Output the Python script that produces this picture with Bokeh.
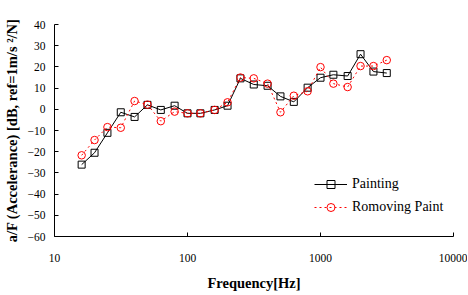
from bokeh.plotting import figure
from bokeh.embed import file_html
from bokeh.resources import INLINE
from bokeh.models import FixedTicker, NumeralTickFormatter, Range1d, Legend, LegendItem

# Data (1/3-octave band centre frequencies)
freq = [16, 20, 25, 31.5, 40, 50, 63, 80, 100, 125, 160, 200, 250, 315, 400,
        500, 630, 800, 1000, 1250, 1600, 2000, 2500, 3150]
painting = [-26.1, -20.5, -11.1, -1.4, -3.6, 2.1, -0.3, 1.7, -1.9, -1.9, -0.3, 1.7,
            14.6, 11.7, 11.1, 6.1, 3.5, 10.2, 14.9, 16.3, 15.7, 26.0, 17.8, 17.1]
removing = [-21.7, -14.5, -8.4, -8.7, 3.9, 2.2, -5.6, -1.1, -1.9, -1.9, -0.3, 3.3,
            15.0, 14.6, 12.1, -1.4, 6.4, 8.5, 19.9, 12.1, 10.5, 20.4, 20.4, 23.2]
x_ticks = [10, 100, 1000, 10000]
y_ticks = [-60, -50, -40, -30, -20, -10, 0, 10, 20, 30, 40]
series_names = ["Painting", "Romoving Paint"]

FONT = "Liberation Serif"

p = figure(frame_width=399, frame_height=212, x_axis_type="log",
           x_range=Range1d(10, 10000), y_range=Range1d(-60, 40),
           output_backend="svg", toolbar_location=None,
           min_border_left=47, min_border_top=24, min_border_right=14, min_border_bottom=51)
p.outline_line_color = None
p.xgrid.visible = False
p.ygrid.visible = False
p.background_fill_color = "white"
p.border_fill_color = "white"

for ax in (p.xaxis[0], p.yaxis[0]):
    ax.major_tick_in = 4
    ax.major_tick_out = 0
    ax.minor_tick_in = 0
    ax.minor_tick_out = 0
    ax.axis_line_color = "black"
    ax.major_tick_line_color = "black"
    ax.major_label_text_font = FONT
    ax.major_label_text_font_size = "11.5px"
    ax.major_label_text_color = "black"
    ax.axis_label_text_font = FONT
    ax.axis_label_text_font_style = "bold"
    ax.axis_label_text_font_size = "14.5px"
    ax.axis_label_text_color = "black"

p.xaxis.ticker = FixedTicker(ticks=x_ticks, minor_ticks=[])
p.xaxis.formatter = NumeralTickFormatter(format="0")
p.yaxis.ticker = FixedTicker(ticks=y_ticks, minor_ticks=[])
p.xaxis.major_label_standoff = 17
p.yaxis.major_label_standoff = 9
p.xaxis.axis_label = "Frequency[Hz]"
p.yaxis.axis_label = "a/F (Accelerance) [dB, ref=1m/s \u00b2/N]"
p.xaxis.axis_label_standoff = 10
p.yaxis.axis_label_standoff = 5

l1 = p.line(freq, painting, line_color="black", line_width=1)
s1 = p.scatter(freq, painting, marker="square", size=7, line_color="black",
               fill_color=None, line_width=1)
l2 = p.line(freq, removing, line_color="red", line_width=1, line_dash="2 3")
s2 = p.scatter(freq, removing, marker="circle", size=7.5, line_color="red",
               fill_color=None, line_width=1)

legend = Legend(items=[LegendItem(label=series_names[0], renderers=[l1, s1]),
                       LegendItem(label=series_names[1], renderers=[l2, s2])],
                location=(260, 19), padding=0, margin=0, spacing=3,
                label_height=20, glyph_height=20, glyph_width=33, label_standoff=5,
                border_line_color=None, background_fill_alpha=0,
                label_text_font=FONT, label_text_font_size="14px",
                label_text_color="black")
p.add_layout(legend, "center")

open("out.html", "w").write(file_html(p, INLINE))
